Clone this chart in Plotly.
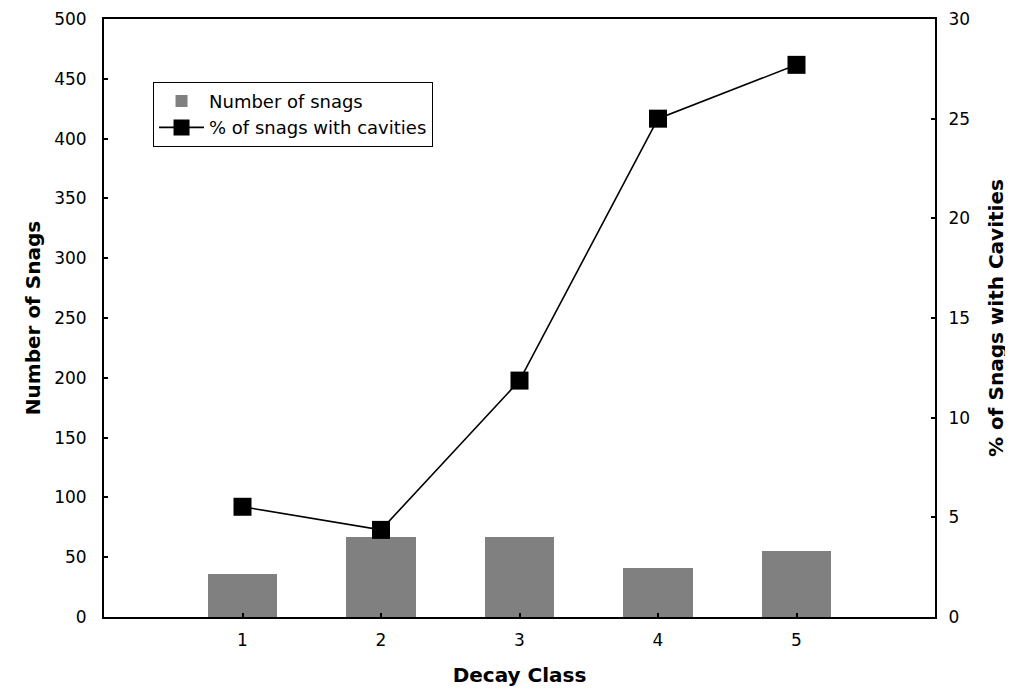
import plotly.graph_objects as go

decay_class = [1, 2, 3, 4, 5]
num_snags = [36, 67, 67, 41, 55]
pct_cavities = [5.53, 4.37, 11.86, 25.0, 27.7]

font_family = "DejaVu Sans, Liberation Sans, Arial, sans-serif"

fig = go.Figure()
fig.add_trace(go.Bar(
    x=decay_class, y=num_snags, name="Number of snags",
    marker=dict(color="#808080", line=dict(width=0)), width=0.5,
    yaxis="y",
))
fig.add_trace(go.Scatter(
    x=decay_class, y=pct_cavities, name="% of snags with cavities",
    mode="lines+markers",
    line=dict(color="black", width=1.6),
    marker=dict(symbol="square", size=18, color="black"),
    yaxis="y2",
))

axis_common = dict(
    showgrid=False, zeroline=False, showline=True, linecolor="black", linewidth=2,
    ticks="inside", ticklen=4, tickwidth=1.5, tickcolor="black",
    tickfont=dict(family=font_family, size=17, color="black"),
    automargin=False,
)
title_font = dict(family=font_family, size=20, color="black")

# page body has an 8px default margin, so the figure is shifted by 8px
fig.update_layout(
    width=1005, height=686,
    margin=dict(l=96, r=78, t=11, b=77),
    plot_bgcolor="white", paper_bgcolor="white",
    font=dict(family=font_family, color="black"),
    bargap=0,
    xaxis=dict(
        range=[0, 6], tickvals=decay_class, ticktext=[str(v) for v in decay_class],
        mirror=True, ticklabelstandoff=7,
        title=dict(text="<b>Decay Class</b>", font=title_font, standoff=19),
        **axis_common,
    ),
    yaxis=dict(
        range=[0, 500], dtick=50, ticklabelstandoff=12,
        title=dict(text="<b>Number of Snags</b>", font=title_font, standoff=8),
        **axis_common,
    ),
    yaxis2=dict(
        range=[0, 30], dtick=5, overlaying="y", side="right", ticklabelstandoff=8,
        title=dict(text="<b>% of Snags with Cavities</b>", font=title_font, standoff=20),
        **axis_common,
    ),
    legend=dict(
        x=0.059, y=0.895, xanchor="left", yanchor="top",
        bordercolor="black", borderwidth=1, bgcolor="white",
        font=dict(family=font_family, size=18, color="black"),
        tracegroupgap=0, itemwidth=45,
    ),
)

fig.write_html("out.html")
